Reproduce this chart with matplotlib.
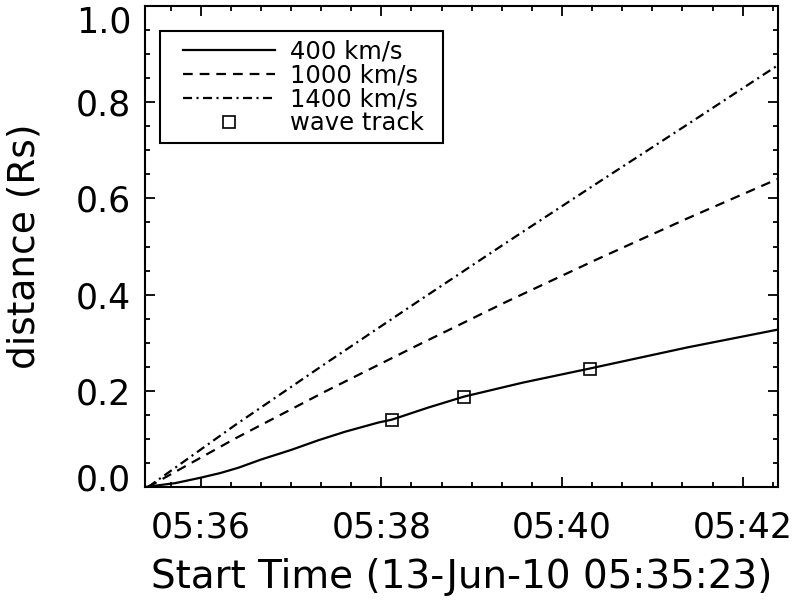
import matplotlib
matplotlib.use('Agg')
import matplotlib.pyplot as plt
import matplotlib.transforms as mtransforms
from matplotlib.ticker import FixedLocator, MultipleLocator
from matplotlib.legend_handler import HandlerLine2D

plt.rcParams['font.family'] = ['DejaVu Sans']
plt.rcParams['lines.scale_dashes'] = False

# time axis: seconds after the start time 13-Jun-10 05:35:23
start_time = '13-Jun-10 05:35:23'

t_1400 = [2, 60, 120, 180, 240, 300, 360, 420]
d_1400 = [0.0, 0.129, 0.257, 0.383, 0.508, 0.631, 0.753, 0.876]

t_1000 = [2, 60, 120, 180, 240, 300, 360, 420]
d_1000 = [0.0, 0.101, 0.199, 0.293, 0.385, 0.473, 0.558, 0.640]

t_400 = [0, 20, 36.5, 50, 62, 77, 97, 115, 133, 155, 164, 188, 212, 251, 295, 360, 420]
d_400 = [0.0, 0.008, 0.019, 0.029, 0.040, 0.057, 0.077, 0.097, 0.115, 0.134, 0.140,
         0.165, 0.188, 0.217, 0.246, 0.290, 0.327]

t_wave = [164, 212, 295.5]
d_wave = [0.140, 0.188, 0.246]

xtick_pos = [37, 157, 277, 397]
xtick_labels = ['05:36', '05:38', '05:40', '05:42']
ytick_vals = [0.0, 0.2, 0.4, 0.6, 0.8, 1.0]
ytick_labels = ['0.0', '0.2', '0.4', '0.6', '0.8', '1.0']

legend_labels = ['400 km/s', '1000 km/s', '1400 km/s', 'wave track']

fig = plt.figure(figsize=(7.96, 6.01), dpi=100)
ax = fig.add_axes([0.1822, 0.1897, 0.7952, 0.8003])

lw = 1.6
l400, = ax.plot(t_400, d_400, color='black', lw=lw, linestyle='-')
l1000, = ax.plot(t_1000, d_1000, color='black', lw=lw, linestyle=(0, (7.0, 5.0)))
l1400, = ax.plot(t_1400, d_1400, color='black', lw=lw,
                 linestyle=(0, (6.5, 3.2, 1.5, 3.2)))
lwave, = ax.plot(t_wave, d_wave, linestyle='none', marker='s', markersize=9,
                 markerfacecolor='none', markeredgecolor='black', markeredgewidth=1.2)

ax.set_xlim(0, 420.5)
ax.set_ylim(0, 1.0)

ax.xaxis.set_major_locator(FixedLocator(xtick_pos))
ax.set_xticklabels(xtick_labels)
ax.xaxis.set_minor_locator(MultipleLocator(base=20, offset=17))
ax.yaxis.set_major_locator(FixedLocator(ytick_vals))
ax.set_yticklabels(ytick_labels)
ax.yaxis.set_minor_locator(MultipleLocator(0.05))

ax.tick_params(which='both', direction='in', top=True, right=True, width=1.3,
               colors='black')
ax.tick_params(which='major', length=7.2, labelsize=25)
ax.tick_params(which='minor', length=3.6)
ax.tick_params(axis='x', which='major', pad=17)
ax.tick_params(axis='y', which='major', pad=10)

for s in ax.spines.values():
    s.set_linewidth(1.5)

ax.set_xlabel('Start Time (' + start_time + ')', fontsize=28, labelpad=10)
ax.set_ylabel('distance (Rs)', fontsize=27, labelpad=24)

# IDL-style inward shift of the end labels
yt = ax.yaxis.get_major_ticks()
yt[0].label1.set_transform(yt[0].label1.get_transform() +
                           mtransforms.ScaledTranslation(0, 7 / 72, fig.dpi_scale_trans))
yt[-1].label1.set_transform(yt[-1].label1.get_transform() +
                            mtransforms.ScaledTranslation(0, -9 / 72, fig.dpi_scale_trans))

fs = 17.5
pad_frac = 0.62
hmap = {l400: HandlerLine2D(numpoints=2, marker_pad=pad_frac),
        l1000: HandlerLine2D(numpoints=2, marker_pad=pad_frac),
        l1400: HandlerLine2D(numpoints=2, marker_pad=pad_frac),
        lwave: HandlerLine2D(numpoints=1)}
leg = ax.legend([l400, l1000, l1400, lwave], legend_labels,
                loc='upper left', bbox_to_anchor=(0.0237, 0.5, 0.447, 0.448),
                mode='expand', borderaxespad=0, handler_map=hmap,
                fontsize=fs, handlelength=5.0, handletextpad=0.0,
                labelspacing=0.0, borderpad=0.33, fancybox=False, framealpha=1,
                edgecolor='black')
leg.get_frame().set_linewidth(1.5)

fig.savefig('out.png', dpi=100)
